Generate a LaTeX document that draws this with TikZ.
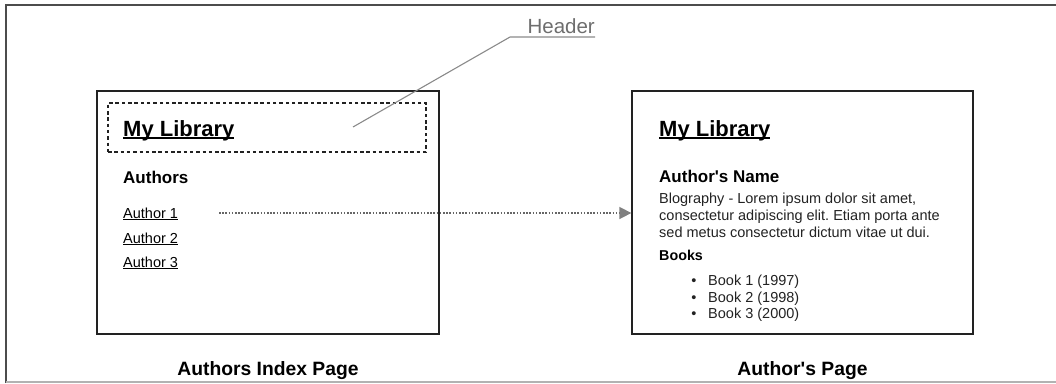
\documentclass[tikz,border=0pt]{standalone}
\usepackage{fontspec}
\setmainfont{Liberation Sans}
\usepackage{tikz}
\usetikzlibrary{arrows.meta,positioning,calc}
\frenchspacing

\definecolor{inkdark}{HTML}{222222}
\definecolor{calloutgray}{HTML}{8A8A8A}
\definecolor{labelgray}{HTML}{6E6E6E}

% underlined text, rule at a fixed depth (like a web link)
\newcommand{\weblink}[1]{\setbox0=\hbox{#1}\rlap{\rule[-0.12em]{\wd0}{0.075em}}\box0}

\begin{document}
\begin{tikzpicture}[x=1pt, y=-1pt,
    page/.style={draw=inkdark, line width=1.3pt, minimum height=243pt, inner sep=0pt},
    headerbox/.style={draw=inkdark, line width=1.1pt, dash pattern=on 3.5pt off 2.8pt,
        minimum width=318pt, minimum height=49pt, inner sep=0pt},
    sitetitle/.style={anchor=base west, inner sep=0pt, font=\fontsize{22}{26}\selectfont\bfseries},
    subhead/.style={anchor=base west, inner sep=0pt, font=\fontsize{17}{20}\selectfont\bfseries},
    smallhead/.style={anchor=base west, inner sep=0pt, font=\fontsize{14.3}{17}\selectfont\bfseries},
    bodytext/.style={anchor=base west, inner sep=0pt, text=inkdark, font=\fontsize{14.5}{17}\selectfont},
    caption/.style={anchor=base, inner sep=0pt, font=\fontsize{19.3}{22}\selectfont\bfseries},
    link/.style={draw=black!60, line width=1.6pt, dash pattern=on 1.6pt off 1.6pt,
        -{Triangle[length=12pt, width=12pt, color=black!50, fill=black!50]}},
    callout/.style={draw=calloutgray, line width=1.1pt}]
    \useasboundingbox (0,0) rectangle (1056,383);

    % Frame (cropped)
    \draw[black!70, line width=2pt] (6,383) -- (6,5) -- (1056,5);
    \draw[black!30, line width=2pt] (6,382) -- (1056,382);

    % Authors index page
    \node[page, minimum width=342pt] (indexpage) at (268,212.5) {};
    \node[headerbox] (header) at (267,127.5) {};
    \node[sitetitle] (indextitle) at (123,136) {\weblink{My Library}};
    \node[subhead] (authorshead) at (123,183) {Authors};
    \foreach \n/\y in {1/218, 2/243, 3/267} {
        \node[bodytext, text=black] (author\n) at (123,\y) {\weblink{Author \n}};
    }
    \node[caption] (indexcap) at (268,375) {Authors Index Page};

    % Author's page
    \node[page, minimum width=341pt] (authorpage) at (802.5,212.5) {};
    \node[sitetitle] (pagetitle) at (659,136) {\weblink{My Library}};
    \node[subhead] (namehead) at (659,182) {Author\textquotesingle s Name};
    \node[bodytext] (bio1) at (659,203) {Blography - Lorem ipsum dolor sit amet,};
    \node[bodytext] (bio2) at (659,220) {consectetur adipiscing elit. Etiam porta ante};
    \node[bodytext] (bio3) at (659,237) {sed metus consectetur dictum vitae ut dui.};
    \node[smallhead] (bookshead) at (659,260) {Books};
    \foreach \n/\yr/\y in {1/1997/285, 2/1998/302, 3/2000/318} {
        \node[bodytext, anchor=base] (bullet\n) at (694,\y) {\textbullet};
        \node[bodytext] (book\n) at (708,\y) {Book \n\ (\yr)};
    }
    \node[caption] (pagecap) at (802.5,375) {Author\textquotesingle s Page};

    % Link from the index to the author page
    \coordinate (linkstart) at (219,213);
    \draw[link] (linkstart) -- (linkstart -| authorpage.west);

    % Callout for the header
    \node[anchor=base east, inner sep=0pt, text=labelgray,
        font=\fontsize{20.5}{24}\selectfont] (headerlbl) at (595,33) {Header};
    \coordinate (calloutfoot) at (353,127);
    \coordinate (calloutbend) at (510,37);
    \draw[callout] (calloutfoot) -- (calloutbend) -- (calloutbend -| headerlbl.east);
\end{tikzpicture}
\end{document}
